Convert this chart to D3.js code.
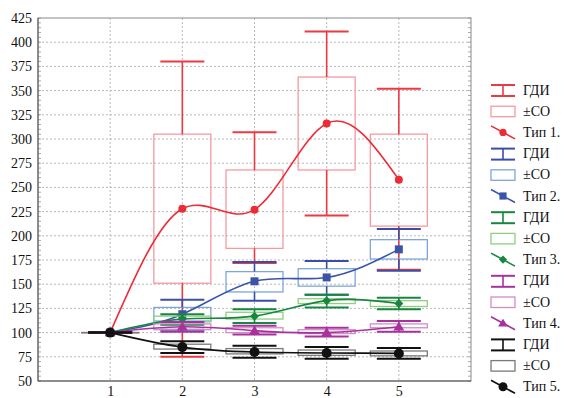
<!DOCTYPE html>
<html>
<head>
<meta charset="utf-8">
<script src="https://cdn.jsdelivr.net/npm/d3@7"></script>
<style>
  body { margin: 0; background: #fff; }
</style>
</head>
<body>
<svg id="chart" width="564" height="398"></svg>
<script>
// categories and tick labels
var xCats = [1, 2, 3, 4, 5];
var yTicks = [50, 75, 100, 125, 150, 175, 200, 225, 250, 275, 300, 325, 350, 375, 400, 425];

// Тип 1.
var meanT1 = [100, 228, 227, 316, 258];
var sdLoT1 = [100, 151, 187, 268, 210];
var sdHiT1 = [100, 305, 268, 364, 305];
var ciLoT1 = [100, 75, 172, 221, 165];
var ciHiT1 = [100, 380, 307, 411, 352];
// Тип 2.
var meanT2 = [100, 119, 153, 157, 186];
var sdLoT2 = [100, 112, 142, 148, 176];
var sdHiT2 = [100, 126, 163, 166, 196];
var ciLoT2 = [100, 103, 133, 139, 164];
var ciHiT2 = [100, 134, 173, 174, 207];
// Тип 3.
var meanT3 = [100, 114, 117, 133, 130];
var sdLoT3 = [100, 111, 114, 130, 127];
var sdHiT3 = [100, 117, 121, 135, 133];
var ciLoT3 = [100, 108, 110, 126, 124];
var ciHiT3 = [100, 119, 124, 139, 136];
// Тип 4.
var meanT4 = [100, 106, 102, 100, 106];
var sdLoT4 = [100, 103, 100, 99, 105];
var sdHiT4 = [100, 109, 105, 103, 109];
var ciLoT4 = [100, 101, 98, 96, 101];
var ciHiT4 = [100, 111, 107, 105, 112];
// Тип 5.
var meanT5 = [100, 85, 80, 79, 78.5];
var sdLoT5 = [100, 83, 78, 76.5, 76];
var sdHiT5 = [100, 88, 83.5, 82, 81];
var ciLoT5 = [100, 79, 74, 73, 73];
var ciHiT5 = [100, 91, 86.5, 85, 84];

var seriesNames = ["Тип 1.", "Тип 2.", "Тип 3.", "Тип 4.", "Тип 5."];

var series = [
  {name: seriesNames[0], mean: meanT1, sdLo: sdLoT1, sdHi: sdHiT1, ciLo: ciLoT1, ciHi: ciHiT1,
   line: "#ec2b36", box: "#f59aa0", cap: "#ec3a44", marker: "circle", size: 4},
  {name: seriesNames[1], mean: meanT2, sdLo: sdLoT2, sdHi: sdHiT2, ciLo: ciLoT2, ciHi: ciHiT2,
   line: "#3a55a8", box: "#7ea6dc", cap: "#3a4ea6", marker: "square", size: 4},
  {name: seriesNames[2], mean: meanT3, sdLo: sdLoT3, sdHi: sdHiT3, ciLo: ciLoT3, ciHi: ciHiT3,
   line: "#17873f", box: "#8fcf7e", cap: "#17873f", marker: "diamond", size: 4.5},
  {name: seriesNames[3], mean: meanT4, sdLo: sdLoT4, sdHi: sdHiT4, ciLo: ciLoT4, ciHi: ciHiT4,
   line: "#a8329c", box: "#cf8dcb", cap: "#a8329c", marker: "triangle", size: 5},
  {name: seriesNames[4], mean: meanT5, sdLo: sdLoT5, sdHi: sdHiT5, ciLo: ciLoT5, ciHi: ciHiT5,
   line: "#111111", box: "#7a7a7a", cap: "#111111", marker: "circle", size: 5}
];

var svg = d3.select("#chart");
var pLeft = 38, pRight = 471, pTop = 18, pBottom = 381;
var serif = "'Liberation Serif', 'Times New Roman', 'DejaVu Serif', serif";

var x = d3.scaleLinear().domain([0, 6]).range([pLeft, pRight]);
var y = d3.scaleLinear().domain([50, 425]).range([pBottom, pTop]);

// grid
var grid = svg.append("g");
grid.selectAll(".hg").data(yTicks.slice(1, -1)).enter().append("line")
    .attr("x1", pLeft).attr("x2", pRight)
    .attr("y1", function(d) { return y(d); }).attr("y2", function(d) { return y(d); })
    .attr("stroke", "#b8b8b8").attr("stroke-dasharray", "2,2");
grid.selectAll(".vg").data(xCats).enter().append("line")
    .attr("y1", pTop).attr("y2", pBottom)
    .attr("x1", function(d) { return x(d); }).attr("x2", function(d) { return x(d); })
    .attr("stroke", "#b8b8b8").attr("stroke-dasharray", "2,2");

// minor ticks on left and right frame
var minor = d3.range(50, 426, 5);
grid.selectAll(".ml").data(minor).enter().append("line")
    .attr("x1", pLeft).attr("x2", pLeft + 3)
    .attr("y1", function(d) { return y(d); }).attr("y2", function(d) { return y(d); })
    .attr("stroke", "#aaa");
grid.selectAll(".mr").data(minor).enter().append("line")
    .attr("x1", pRight - 3).attr("x2", pRight)
    .attr("y1", function(d) { return y(d); }).attr("y2", function(d) { return y(d); })
    .attr("stroke", "#aaa");

// frame
svg.append("rect").attr("x", pLeft).attr("y", pTop)
    .attr("width", pRight - pLeft).attr("height", pBottom - pTop)
    .attr("fill", "none").attr("stroke", "#8a8a8a");
svg.append("line").attr("x1", pLeft).attr("x2", pLeft).attr("y1", pTop).attr("y2", pBottom)
    .attr("stroke", "#555");
svg.append("line").attr("x1", pLeft).attr("x2", pRight).attr("y1", pBottom).attr("y2", pBottom)
    .attr("stroke", "#555");

// axes labels
var yAxis = d3.axisLeft(y).tickValues(yTicks).tickSize(0).tickPadding(6);
svg.append("g").attr("transform", "translate(" + pLeft + ",0)").call(yAxis)
    .call(function(g) { g.select(".domain").remove(); })
    .selectAll("text").attr("font-size", 14).attr("fill", "#111");

var xAxis = d3.axisBottom(x).tickValues(xCats).tickSize(0).tickPadding(5).tickFormat(d3.format("d"));
svg.append("g").attr("transform", "translate(0," + pBottom + ")").call(xAxis)
    .call(function(g) { g.select(".domain").remove(); })
    .selectAll("text").attr("font-size", 14).attr("fill", "#111");

var boxHalf = 28.5, capHalf = 22;

function markerPath(type, s) {
  if (type === "square") return d3.symbol(d3.symbolSquare, (2 * s) * (2 * s))();
  if (type === "diamond") return "M0," + (-s) + "L" + s + ",0L0," + s + "L" + (-s) + ",0Z";
  if (type === "triangle") return "M0," + (-s) + "L" + (s * 1.1) + "," + (s * 0.75) + "L" + (-s * 1.1) + "," + (s * 0.75) + "Z";
  return d3.symbol(d3.symbolCircle, Math.PI * s * s)();
}

var curve = d3.line()
    .x(function(d) { return x(d.x); })
    .y(function(d) { return y(d.v); })
    .curve(d3.curveNatural);

series.forEach(function(s) {
  var g = svg.append("g");
  var pts = xCats.map(function(c, i) {
    return {x: c, v: s.mean[i], sdLo: s.sdLo[i], sdHi: s.sdHi[i], ciLo: s.ciLo[i], ciHi: s.ciHi[i]};
  });

  // ±СО boxes
  g.selectAll(".box").data(pts).enter().append("rect")
      .attr("x", function(d) { return x(d.x) - boxHalf; })
      .attr("y", function(d) { return y(d.sdHi); })
      .attr("width", boxHalf * 2)
      .attr("height", function(d) { return Math.max(0.01, y(d.sdLo) - y(d.sdHi)); })
      .attr("fill", "none").attr("stroke", s.box).attr("stroke-width", 1.3);

  // ГДИ whiskers
  g.selectAll(".wu").data(pts).enter().append("line")
      .attr("x1", function(d) { return x(d.x); }).attr("x2", function(d) { return x(d.x); })
      .attr("y1", function(d) { return y(d.ciHi); }).attr("y2", function(d) { return y(d.sdHi); })
      .attr("stroke", s.cap).attr("stroke-width", 1.6);
  g.selectAll(".wl").data(pts).enter().append("line")
      .attr("x1", function(d) { return x(d.x); }).attr("x2", function(d) { return x(d.x); })
      .attr("y1", function(d) { return y(d.sdLo); }).attr("y2", function(d) { return y(d.ciLo); })
      .attr("stroke", s.cap).attr("stroke-width", 1.6);
  ["ciHi", "ciLo"].forEach(function(k) {
    g.selectAll(".c" + k).data(pts).enter().append("line")
        .attr("x1", function(d) { return x(d.x) - capHalf; })
        .attr("x2", function(d) { return x(d.x) + capHalf; })
        .attr("y1", function(d) { return y(d[k]); }).attr("y2", function(d) { return y(d[k]); })
        .attr("stroke", s.cap).attr("stroke-width", 2);
  });

  // mean line
  g.append("path").datum(pts).attr("d", curve)
      .attr("fill", "none").attr("stroke", s.line).attr("stroke-width", 1.6);

  g.selectAll(".m").data(pts).enter().append("path")
      .attr("transform", function(d) { return "translate(" + x(d.x) + "," + y(d.v) + ")"; })
      .attr("d", markerPath(s.marker, s.size))
      .attr("fill", s.line);
});

// legend
var lx = 491, lw = 24, ly0 = 90, step = 21.2;
var leg = svg.append("g");
series.forEach(function(s, i) {
  var yc = ly0 + step * 3 * i;
  // ГДИ
  leg.append("line").attr("x1", lx).attr("x2", lx + lw).attr("y1", yc - 5).attr("y2", yc - 5)
      .attr("stroke", s.cap).attr("stroke-width", 2);
  leg.append("line").attr("x1", lx).attr("x2", lx + lw).attr("y1", yc + 6).attr("y2", yc + 6)
      .attr("stroke", s.cap).attr("stroke-width", 2);
  leg.append("line").attr("x1", lx + lw / 2).attr("x2", lx + lw / 2).attr("y1", yc - 5).attr("y2", yc + 6)
      .attr("stroke", s.cap).attr("stroke-width", 1.6);
  leg.append("text").attr("x", 523).attr("y", yc + 4.5).attr("font-size", 14).attr("fill", "#111").text("ГДИ");
  // ±СО
  var yb = yc + step;
  leg.append("rect").attr("x", lx).attr("y", yb - 5).attr("width", lw).attr("height", 10.5)
      .attr("fill", "none").attr("stroke", s.box).attr("stroke-width", 1.3);
  leg.append("text").attr("x", 523).attr("y", yb + 4.5).attr("font-size", 14).attr("fill", "#111").text("±СО");
  // Тип
  var yt = yc + step * 2;
  leg.append("line").attr("x1", lx).attr("x2", lx + lw).attr("y1", yt - 6.5).attr("y2", yt + 6.5)
      .attr("stroke", s.line).attr("stroke-width", 1.6);
  leg.append("path").attr("transform", "translate(" + (lx + lw / 2) + "," + yt + ")")
      .attr("d", markerPath(s.marker, s.size * 0.9)).attr("fill", s.line);
  leg.append("text").attr("x", 523).attr("y", yt + 4.5).attr("font-size", 14).attr("fill", "#111").text(s.name);
});

// serif type everywhere, as in the source chart
svg.selectAll("g").attr("font-family", null);
svg.selectAll("text").style("font-family", serif);
</script>
</body>
</html>
